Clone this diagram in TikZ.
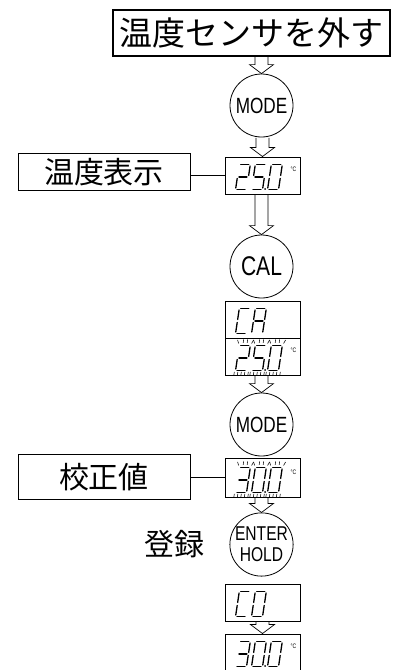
\documentclass[tikz,border=0pt]{standalone}
\usepackage{fontspec}
\newfontfamily\jpfont{Noto Sans CJK JP}
\newfontfamily\narrowfont{Liberation Sans}[FakeStretch=0.78]
\usetikzlibrary{calc}
\tikzset{
 circ/.style={draw, circle, minimum size=63pt, inner sep=0pt, line width=0.8pt, align=center, font=\narrowfont\fontsize{22}{22}\selectfont},
 disp/.style={draw, rectangle, minimum width=75pt, minimum height=37pt, inner sep=0pt, line width=0.9pt},
 lbl/.style={draw, rectangle, inner sep=0pt, line width=0.9pt, font=\jpfont\fontsize{30}{30}\selectfont},
 seg/.style={line width=1.3pt, line cap=round},
 tickmark/.style={line width=0.55pt},
 harrow/.style={draw, line width=0.7pt, line join=miter},
 conn/.style={draw, line width=0.7pt},
}
\newcommand\dsega{\draw[seg] (1.5,25)--(9.5,25);}
\newcommand\dsegb{\draw[seg] (11,23.5)--(11,14);}
\newcommand\dsegc{\draw[seg] (11,11)--(11,1.5);}
\newcommand\dsegd{\draw[seg] (1.5,0)--(9.5,0);}
\newcommand\dsege{\draw[seg] (0,1.5)--(0,11);}
\newcommand\dsegf{\draw[seg] (0,14)--(0,23.5);}
\newcommand\dsegg{\draw[seg] (1.5,12.5)--(9.5,12.5);}
\newcommand\digitat[2]{%
  \begin{scope}[shift={#1}, y=1pt, xslant=0.15]
    \foreach \s in {#2}{\csname dseg\s\endcsname}
  \end{scope}}
\newcommand\blinkat[1]{%
  \begin{scope}[shift={#1}, y=1pt, xslant=0.15, tickmark]
   \draw (-1,27)--(-2.5,30.5) (3.5,27.5)--(3.5,31) (7.5,27.5)--(7.5,31) (12,27)--(13.5,30.5);
   \draw (-1,-1.5)--(-1,-4.5) (2.5,-1.5)--(2.5,-4.5) (6,-1.5)--(6,-4.5) (9.5,-1.5)--(9.5,-4.5) (13,-1.5)--(13,-4.5);
  \end{scope}}
\newcommand\threedig[4]{%
  \digitat{($(#1.south west)+(11,-5)$)}{#2}
  \digitat{($(#1.south west)+(27,-5)$)}{#3}
  \digitat{($(#1.south west)+(43,-5)$)}{#4}
  \fill ($(#1.south west)+(40.5,-5.5)$) circle (1pt);
  \node[font=\narrowfont\fontsize{6.5}{6.5}\selectfont, inner sep=0pt] (#1deg) at ($(#1.south west)+(69,-25)$) {°C};}
\newcommand\twodig[3]{%
  \digitat{($(#1.south west)+(11,-5)$)}{#2}
  \digitat{($(#1.south west)+(27,-5)$)}{#3}}
\newcommand\blinkthree[1]{%
  \blinkat{($(#1.south west)+(11,-5)$)}
  \blinkat{($(#1.south west)+(27,-5)$)}
  \blinkat{($(#1.south west)+(43,-5)$)}}
\newcommand\harr[2]{%
  \draw[harrow] let \p1=(#1.south), \p2=(#2.north) in
   (\x2-6.5pt,\y1-0.45pt) -- (\x2-6.5pt,\y2+9pt) -- (\x2-12pt,\y2+9pt) -- (\x2,\y2)
   -- (\x2+12pt,\y2+9pt) -- (\x2+6.5pt,\y2+9pt) -- (\x2+6.5pt,\y1-0.45pt);}
\begin{document}
\begin{tikzpicture}[x=1pt,y=-1pt]
\useasboundingbox (0,0) rectangle (392,670);
\node[draw, line width=1.5pt, minimum width=277pt, minimum height=46pt, inner sep=0pt, font=\jpfont\fontsize{33}{33}\selectfont] (top) at (251.5,33) {温度センサを外す};
\node[circ] (m1) at (261.5,105.5) {MODE};
\node[disp] (d1) at (262.5,175.5) {};
\node[circ, font=\narrowfont\fontsize{27}{27}\selectfont] (cal) at (261.5,266.5) {CAL};
\node[disp] (d2) at (262.5,319.5) {};
\node[disp] (d3) at (262.5,356.5) {};
\node[circ] (m2) at (261.5,424.5) {MODE};
\node[disp, minimum height=39pt] (d4) at (262.5,477.5) {};
\node[circ, font=\narrowfont\fontsize{20}{21}\selectfont] (ent) at (261.5,544.5) {ENTER\\HOLD};
\node[disp] (d5) at (262.5,602.5) {};
\node[disp] (d6) at (262.5,652.5) {};
\node[lbl, minimum width=172pt, minimum height=37pt] (l1) at (104,172) {温度表示};
\node[lbl, minimum width=172pt, minimum height=45pt] (l2) at (104,477) {校正値};
\node[font=\jpfont\fontsize{30}{30}\selectfont, inner sep=0pt] (reg) at (174,544) {登録};
\draw[conn] (d1.west) -- (d1.west -| l1.east);
\draw[conn] (d4.west) -- (d4.west -| l2.east);
\harr{top}{m1}
\harr{m1}{d1}
\harr{d1}{cal}
\harr{d3}{m2}
\harr{d4}{ent}
\harr{d5}{d6}
\threedig{d1}{a,b,g,e,d}{a,f,g,c,d}{a,b,c,d,e,f}
\twodig{d2}{a,f,e,d}{a,b,c,e,f,g}
\threedig{d3}{a,b,g,e,d}{a,f,g,c,d}{a,b,c,d,e,f}
\blinkthree{d3}
\threedig{d4}{a,b,g,c,d}{a,b,c,d,e,f}{a,b,c,d,e,f}
\blinkthree{d4}
\twodig{d5}{a,f,e,d}{a,b,c,d,e,f}
\threedig{d6}{a,b,g,c,d}{a,b,c,d,e,f}{a,b,c,d,e,f}
\end{tikzpicture}
\end{document}
